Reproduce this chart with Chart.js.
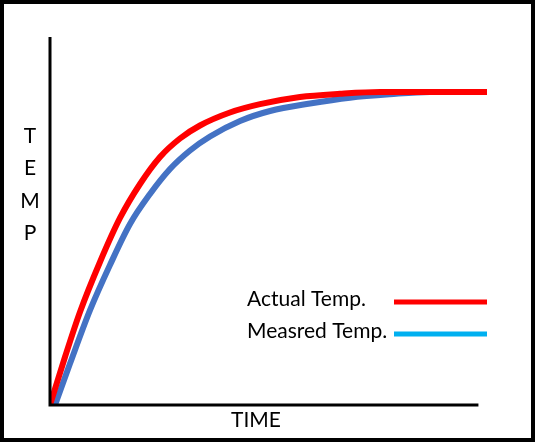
<!DOCTYPE html>
<html>
<head>
<meta charset="utf-8">
<script src="https://cdn.jsdelivr.net/npm/chart.js@4/dist/chart.umd.min.js"></script>
<style>
  html, body { margin: 0; padding: 0; background: #fff; }
  canvas { display: block; }
</style>
</head>
<body>
<canvas id="chart" width="535" height="442"></canvas>
<script>
// data (time 0-102, temp 0-100)
const timeActual = [0, 3.5, 7.0, 11.67, 16.34, 21.01, 25.68, 30.34, 35.01, 42.01, 49.02, 58.35, 67.69, 77.03, 102];
const tempActual = [0, 13.04, 25.27, 38.86, 50.82, 60.05, 67.39, 72.42, 75.95, 79.48, 81.74, 83.7, 84.57, 85.05, 85.05];
const timeMeasured = [1.17, 4.67, 9.34, 14.0, 18.67, 23.34, 28.01, 32.68, 37.35, 44.35, 51.35, 60.69, 70.02, 79.36, 88.7, 102];
const tempMeasured = [0, 11.25, 25.76, 38.04, 49.18, 57.34, 64.13, 69.16, 72.96, 77.17, 79.89, 81.93, 83.51, 84.44, 85.05, 85.05];

const seriesLabels = ["Actual Temp.", "Measred Temp."];
const lineColors = ["#FF0000", "#4472C4"];
const legendColors = ["#FF0000", "#00B0F0"];
const xTitle = "TIME";
const yTitle = ["T", "E", "M", "P"];
const axisEnd = 100;

const toPoints = (xs, ys) => xs.map((x, i) => ({ x: x, y: ys[i] }));

// axes, titles, legend and frame are drawn by hand like the original sketch
const sketchPlugin = {
  id: "sketch",
  afterDraw(chart) {
    const ctx = chart.ctx;
    const xs = chart.scales.x, ys = chart.scales.y;
    const x0 = xs.getPixelForValue(0);
    const y0 = ys.getPixelForValue(0);
    ctx.save();

    // axis lines
    ctx.strokeStyle = "#000";
    ctx.lineWidth = 3;
    ctx.beginPath();
    ctx.moveTo(x0, ys.getPixelForValue(100));
    ctx.lineTo(x0, y0);
    ctx.lineTo(xs.getPixelForValue(axisEnd), y0);
    ctx.stroke();

    // titles
    ctx.fillStyle = "#000";
    ctx.font = "21px Lato";
    ctx.textAlign = "center";
    ctx.textBaseline = "middle";
    ctx.fillText(xTitle, 256, 420);
    yTitle.forEach((ch, i) => ctx.fillText(ch, 30, 136 + i * 32.5));

    // legend: label then a line sample
    ctx.textAlign = "left";
    seriesLabels.forEach((lab, i) => {
      const ly = 299 + i * 32;
      ctx.fillStyle = "#000";
      ctx.fillText(lab, 247, ly);
      ctx.fillStyle = legendColors[i];
      ctx.fillRect(394, ly + 0.5, 93, 5);
    });

    // frame
    ctx.strokeStyle = "#000";
    ctx.lineWidth = 4;
    ctx.strokeRect(2, 2, chart.width - 4, chart.height - 4);
    ctx.restore();
  }
};

new Chart(document.getElementById("chart"), {
  type: "line",
  data: {
    datasets: [
      {
        label: seriesLabels[0],
        data: toPoints(timeActual, tempActual),
        borderColor: lineColors[0],
        borderWidth: 6,
        pointRadius: 0,
        cubicInterpolationMode: "monotone",
        order: 0
      },
      {
        label: seriesLabels[1],
        data: toPoints(timeMeasured, tempMeasured),
        borderColor: lineColors[1],
        borderWidth: 6,
        pointRadius: 0,
        cubicInterpolationMode: "monotone",
        order: 1
      }
    ]
  },
  options: {
    responsive: false,
    animation: false,
    layout: { padding: { left: 50, right: 48, top: 37, bottom: 37 } },
    plugins: { legend: { display: false }, tooltip: { enabled: false } },
    scales: {
      x: { type: "linear", min: 0, max: 102, display: false },
      y: { min: 0, max: 100, display: false }
    },
    elements: { line: { borderCapStyle: "butt" } }
  },
  plugins: [sketchPlugin]
});
</script>
</body>
</html>
